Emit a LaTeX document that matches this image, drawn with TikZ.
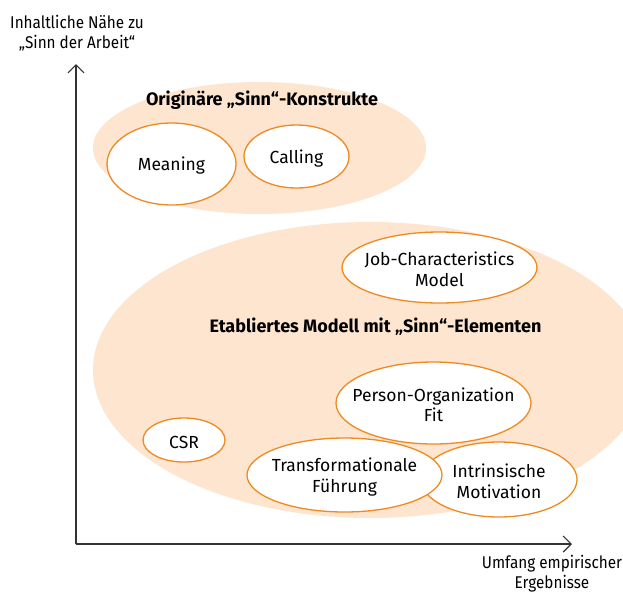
\documentclass[tikz,border=0pt]{standalone}
\usepackage{fontspec}
\setmainfont{Fira Sans}
\newfontfamily\axisfont{Fira Sans}[FakeStretch=0.9]
\usetikzlibrary{shapes.geometric,arrows.meta}
\definecolor{peach}{HTML}{FDE5D0}
\definecolor{orng}{HTML}{EE8A22}
\definecolor{axisgray}{HTML}{333333}
\tikzset{
  lbl/.style={font=\axisfont\fontsize{17}{20}\selectfont, text=black, align=center, inner sep=0pt},
  ttl/.style={font=\fontsize{18}{20}\selectfont\bfseries, text=black, inner sep=0pt},
  bubtext/.style={font=\fontsize{17.5}{20.5}\selectfont, text=black, align=center, inner sep=0pt, yshift=-2pt},
  bub/.style={ellipse, draw=orng, line width=1.3pt, fill=white, inner sep=0pt},
  cloud/.style={ellipse, fill=peach, draw=none, inner sep=0pt},
  axis/.style={draw=axisgray, line width=1.4pt, -{Straight Barb[length=8pt,width=16pt,line width=1.2pt]}}
}
\begin{document}
\begin{tikzpicture}[x=1pt,y=-1pt]
\clip (0,0) rectangle (623,592);
% background clouds
\node[cloud, minimum width=333pt, minimum height=132pt] (cloudA) at (259.5,148) {};
\node[cloud, minimum width=554pt, minimum height=296pt] (cloudB) at (370,370) {};
% titles
\node[ttl] (titleA) at (262,100) {Originäre „Sinn“-Konstrukte};
\node[ttl] (titleB) at (375.5,327) {Etabliertes Modell mit „Sinn“-Elementen};
% bubbles
\node[bub, minimum width=129pt, minimum height=82pt, label={[bubtext]center:Meaning}] (meaning) at (171.5,164) {};
\node[bub, minimum width=105pt, minimum height=63pt, label={[bubtext]center:Calling}] (calling) at (296.5,156.5) {};
\node[bub, minimum width=195pt, minimum height=71pt, label={[bubtext]center:{Job-Characteristics\\Model}}] (jcm) at (439.5,267.5) {};
\node[bub, minimum width=82pt, minimum height=44pt, label={[bubtext]center:CSR}] (csr) at (184,440) {};
\node[bub, minimum width=195pt, minimum height=82pt, label={[bubtext]center:{Person-Organization\\Fit}}] (pof) at (433.5,403) {};
\node[bub, minimum width=156pt, minimum height=75pt, label={[bubtext]center:{Intrinsische\\Motivation}}] (im) at (499,479.5) {};
\node[bub, minimum width=195pt, minimum height=74pt, label={[bubtext]center:{Transformationale\\Führung}}] (tf) at (344.5,475) {};
% axes
\coordinate (origin) at (76,544);
\coordinate (ytip) at (76,64);
\coordinate (xtip) at (572,544);
\draw[axis] (origin) -- (ytip);
\draw[axis] (origin) -- (xtip);
\node[lbl] (ylabel) at (77,33) {Inhaltliche Nähe zu\\„Sinn der Arbeit“};
\node[lbl] (xlabel) at (552,574) {Umfang empirischer\\Ergebnisse};
\end{tikzpicture}
\end{document}
